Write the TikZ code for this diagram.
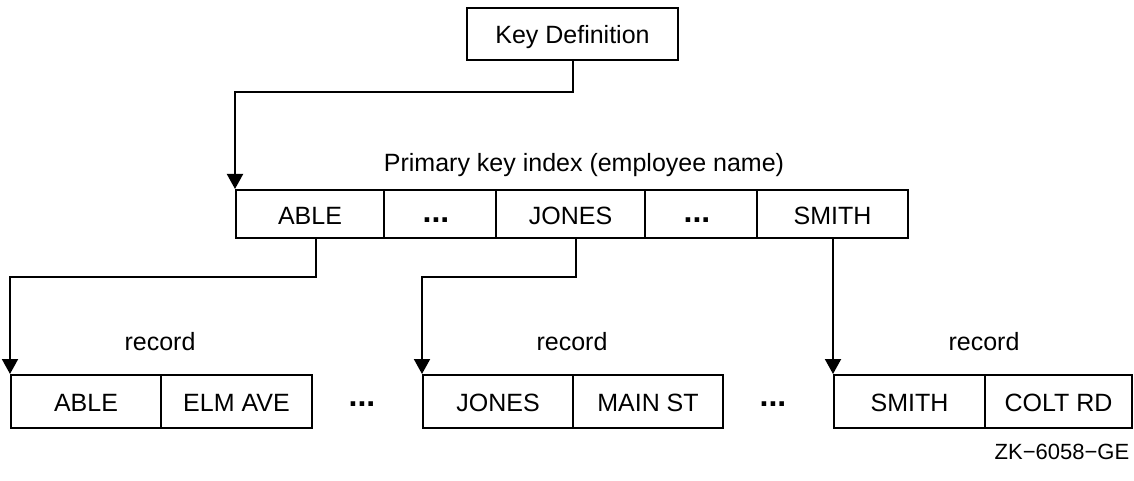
\documentclass[tikz,border=0pt]{standalone}
\usepackage{fontspec}
\setmainfont{Liberation Sans}
\usetikzlibrary{arrows.meta}
\begin{document}
\begin{tikzpicture}[x=1pt,y=-1pt,
  every node/.style={font=\fontsize{25}{30}\selectfont},
  cell/.style={draw,line width=2pt,inner sep=0pt,anchor=center,text height=20pt,text depth=0pt},
  lbl/.style={inner sep=0pt,anchor=center},
  dots/.style={inner sep=0pt,anchor=base,font=\fontsize{32}{36}\selectfont\bfseries},
  arr/.style={line width=2pt,-{Triangle[width=16pt,length=15pt]}}]
\useasboundingbox (0,0) rectangle (1134,481);
% key definition
\node[cell,minimum width=211pt,minimum height=52pt] (kd) at (572.5,34) {Key Definition};
% index label
\node[lbl] (plabel) at (584,165) {Primary key index (employee name)};
% index cells
\node[cell,minimum width=148pt,minimum height=48pt] (i1) at (310,214) {ABLE};
\node[cell,minimum width=112pt,minimum height=48pt] (i2) at (440,214) {};
\node[cell,minimum width=149pt,minimum height=48pt] (i3) at (570.5,214) {JONES};
\node[cell,minimum width=112pt,minimum height=48pt] (i4) at (701,214) {};
\node[cell,minimum width=151pt,minimum height=48pt] (i5) at (832.5,214) {SMITH};
\node[dots] (i2d) at (436,222.5) {...};
\node[dots] (i4d) at (697,222.5) {...};
% record labels
\node[lbl] (rl1) at (160,342) {record};
\node[lbl] (rl2) at (572,342) {record};
\node[lbl] (rl3) at (984,342) {record};
% records
\node[cell,minimum width=150pt,minimum height=53pt] (r1a) at (86,401.5) {ABLE};
\node[cell,minimum width=151pt,minimum height=53pt] (r1b) at (236.5,401.5) {ELM AVE};
\node[dots] (d1) at (362,406) {...};
\node[cell,minimum width=150pt,minimum height=53pt] (r2a) at (498,401.5) {JONES};
\node[cell,minimum width=150pt,minimum height=53pt] (r2b) at (648,401.5) {MAIN ST};
\node[dots] (d2) at (773,406) {...};
\node[cell,minimum width=151pt,minimum height=53pt] (r3a) at (909.5,401.5) {SMITH};
\node[cell,minimum width=147pt,minimum height=53pt] (r3b) at (1058.5,401.5) {COLT RD};
% figure id
\node[lbl,font=\fontsize{22}{26}\selectfont] (zk) at (1062,452) {ZK−6058−GE};
% connectors
\draw[arr] (kd.south) -- ++(0,31) -| (i1.north west);
\draw[arr] ([xshift=6pt]i1.south) -- ++(0,38) -| (r1a.north west);
\draw[arr] ([xshift=5.5pt]i3.south) -- ++(0,38) -| (r2a.north west);
\draw[arr] (r3a.north west |- i5.south) -- (r3a.north west);
\end{tikzpicture}
\end{document}
